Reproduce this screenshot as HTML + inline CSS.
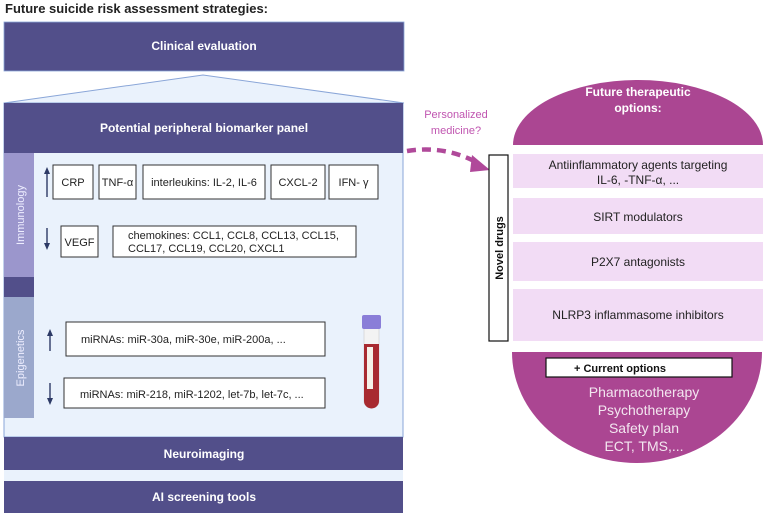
<!DOCTYPE html>
<html><head><meta charset="utf-8"><style>
html,body{margin:0;padding:0;background:#fff;}
svg{display:block;font-family:"Liberation Sans",sans-serif;}
</style></head><body>
<svg width="765" height="516" viewBox="0 0 765 516" xmlns="http://www.w3.org/2000/svg">
<text x="5" y="13" font-size="13" font-weight="bold" fill="#222">Future suicide risk assessment strategies:</text>
<rect x="4" y="22" width="400" height="49" fill="#524f8a" stroke="#8aa6d8" stroke-width="0.8"/>
<text x="204" y="50" font-size="12" font-weight="bold" fill="#fff" text-anchor="middle">Clinical evaluation</text>
<polygon points="4,103 203,75 404,103" fill="#eaf2fc" stroke="#8aa6d8" stroke-width="1"/>
<rect x="4" y="103" width="399" height="334" fill="#eaf2fc" stroke="#8aa6d8" stroke-width="1"/>
<rect x="4" y="103" width="399" height="50" fill="#524f8a"/>
<text x="204" y="132" font-size="12" font-weight="bold" fill="#fff" text-anchor="middle">Potential peripheral biomarker panel</text>
<rect x="4" y="153" width="30" height="124" fill="#9b96cc"/>
<rect x="4" y="277" width="30" height="20" fill="#524f8a"/>
<rect x="4" y="297" width="30" height="121" fill="#9ba8cc"/>
<text transform="translate(24,215) rotate(-90)" font-size="11" fill="#eef" text-anchor="middle">Immunology</text>
<text transform="translate(24,358) rotate(-90)" font-size="11" fill="#eef" text-anchor="middle">Epigenetics</text>
<g stroke="#2d3a66" stroke-width="1.4" fill="#2d3a66">
<line x1="47" y1="197" x2="47" y2="172"/><polygon points="44,174 50,174 47,167" stroke="none"/>
<line x1="47" y1="228" x2="47" y2="244"/><polygon points="44,243 50,243 47,250" stroke="none"/>
<line x1="50" y1="351" x2="50" y2="334"/><polygon points="47,336 53,336 50,329" stroke="none"/>
<line x1="50" y1="383" x2="50" y2="399"/><polygon points="47,398 53,398 50,405" stroke="none"/>
</g>
<g fill="#fff" stroke="#333" stroke-width="1">
<rect x="53" y="165" width="40" height="34"/>
<rect x="99" y="165" width="37" height="34"/>
<rect x="143" y="165" width="122" height="34"/>
<rect x="271" y="165" width="54" height="34"/>
<rect x="329" y="165" width="49" height="34"/>
<rect x="61" y="226" width="37" height="31"/>
<rect x="113" y="226" width="243" height="31"/>
<rect x="66" y="322" width="259" height="34"/>
<rect x="64" y="378" width="261" height="30"/>
</g>
<g font-size="11" fill="#222">
<text x="73" y="186" text-anchor="middle">CRP</text>
<text x="117.5" y="186" text-anchor="middle">TNF-α</text>
<text x="204" y="186" text-anchor="middle">interleukins: IL-2, IL-6</text>
<text x="298" y="186" text-anchor="middle">CXCL-2</text>
<text x="353.5" y="186" text-anchor="middle">IFN- γ</text>
<text x="79.5" y="246" text-anchor="middle">VEGF</text>
<text x="128" y="239">chemokines: CCL1, CCL8, CCL13, CCL15,</text>
<text x="128" y="252">CCL17, CCL19, CCL20, CXCL1</text>
<text x="81" y="343">miRNAs: miR-30a, miR-30e,  miR-200a, ...</text>
<text x="80" y="398">miRNAs: miR-218, miR-1202, let-7b, let-7c, ...</text>
</g>
<rect x="364" y="322" width="15" height="86" rx="7" fill="#f3f3f3" stroke="#ccc" stroke-width="0.6"/>
<path d="M364,344 h15 v57 a7.5,7.5 0 0 1 -15,0 z" fill="#a82a30"/>
<rect x="367" y="347" width="6" height="42" fill="#f5f1e8"/>
<rect x="362" y="315" width="19" height="14" rx="2" fill="#8a7ed8"/>
<rect x="4" y="437" width="399" height="33" fill="#524f8a"/>
<text x="204" y="458" font-size="12" font-weight="bold" fill="#fff" text-anchor="middle">Neuroimaging</text>
<rect x="4" y="470" width="399" height="11" fill="#eaf2fc"/>
<rect x="4" y="481" width="399" height="32" fill="#524f8a"/>
<text x="204" y="501" font-size="12" font-weight="bold" fill="#fff" text-anchor="middle">AI screening tools</text>
<text x="456" y="118" font-size="11" fill="#c055b0" text-anchor="middle">Personalized</text>
<text x="456" y="134" font-size="11" fill="#c055b0" text-anchor="middle">medicine?</text>
<path d="M407,151 Q445,145 478,163" fill="none" stroke="#b0499a" stroke-width="4.5" stroke-dasharray="9,6"/>
<polygon points="472,155 490,170 470,172" fill="#b0499a"/>
<path d="M513,145 A125,65 0 0 1 763,145 Z" fill="#ab4692"/>
<text x="638" y="96" font-size="12" font-weight="bold" fill="#fff" text-anchor="middle">Future therapeutic</text>
<text x="638" y="112" font-size="12" font-weight="bold" fill="#fff" text-anchor="middle">options:</text>
<g fill="#f2dcf5">
<rect x="513" y="154" width="250" height="34"/>
<rect x="513" y="198" width="250" height="36"/>
<rect x="513" y="242" width="250" height="39"/>
<rect x="513" y="289" width="250" height="52"/>
</g>
<g font-size="12" fill="#222" text-anchor="middle">
<text x="638" y="169">Antiinflammatory agents targeting</text>
<text x="638" y="184">IL-6, -TNF-α, ...</text>
<text x="638" y="221">SIRT modulators</text>
<text x="638" y="266">P2X7 antagonists</text>
<text x="638" y="319">NLRP3 inflammasome inhibitors</text>
</g>
<rect x="489" y="155" width="19" height="186" fill="#fff" stroke="#111" stroke-width="1.2"/>
<text transform="translate(503,248) rotate(-90)" font-size="11" font-weight="bold" fill="#111" text-anchor="middle">Novel drugs</text>
<path d="M512,352 A125,111 0 0 0 762,352 Z" fill="#ab4692"/>
<rect x="546" y="358" width="186" height="19" fill="#fff" stroke="#111" stroke-width="1.2"/>
<text x="620" y="372" font-size="11" font-weight="bold" fill="#111" text-anchor="middle">+ Current options</text>
<g font-size="14" fill="#f3e6f0" text-anchor="middle">
<text x="644" y="397">Pharmacotherapy</text>
<text x="644" y="415">Psychotherapy</text>
<text x="644" y="433">Safety plan</text>
<text x="644" y="451">ECT, TMS,...</text>
</g>
</svg>
</body></html>
